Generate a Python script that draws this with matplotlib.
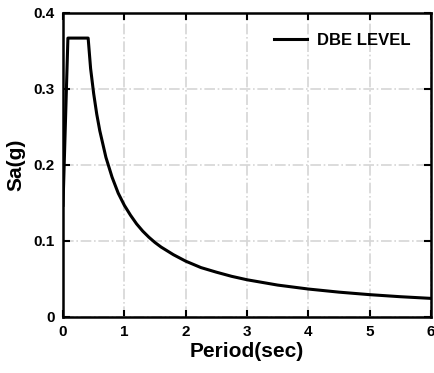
'''
Design response spectrum, DBE level
'''
import matplotlib
matplotlib.use('Agg')
import matplotlib.pyplot as plt

# ----------------------------
period = [0.0, 0.08, 0.41, 0.45, 0.5, 0.55, 0.6, 0.7, 0.8, 0.9, 1.0, 1.1, 1.2, 1.3,
          1.4, 1.5, 1.6, 1.8, 2.0, 2.25, 2.5, 2.75, 3.0, 3.5, 4.0, 4.5, 5.0, 5.5, 6.0]
sa_g   = [0.147, 0.367, 0.367, 0.327, 0.294, 0.267, 0.245, 0.210, 0.184, 0.163,
          0.147, 0.134, 0.1225, 0.113, 0.105, 0.098, 0.092, 0.082, 0.0735, 0.065,
          0.059, 0.0535, 0.049, 0.042, 0.0368, 0.0327, 0.0294, 0.0267, 0.0245]
xticks = [0, 1, 2, 3, 4, 5, 6]
yticks = [0, 0.1, 0.2, 0.3, 0.4]
ylabels= ['0', '0.1', '0.2', '0.3', '0.4']
# ----------------------------
plt.rcParams['font.family'] = ['Liberation Sans', 'DejaVu Sans']

fig = plt.figure(figsize=(4.35, 3.73), dpi=100)
ax  = fig.add_axes([63/435, 1 - 317/373, 368/435, 304/373])

ax.plot(period, sa_g, color='black', linewidth=2.2, label='DBE LEVEL')

ax.set_xlim(0, 6)
ax.set_ylim(0, 0.4)
ax.set_xticks(xticks)
ax.set_yticks(yticks)
ax.set_yticklabels(ylabels)
ax.grid(True, color='#d6d6d6', linestyle='-.', linewidth=1.2)
ax.tick_params(direction='in', top=True, right=True, length=5, width=1.5,
               labelsize=11, pad=6)
for lab in ax.get_xticklabels() + ax.get_yticklabels():
    lab.set_fontweight('bold')
for spine in ax.spines.values():
    spine.set_linewidth(1.8)

ax.set_xlabel('Period(sec)', fontsize=15, fontweight='bold', labelpad=2)
ax.set_ylabel('Sa(g)', fontsize=15, fontweight='bold', labelpad=6)

leg = ax.legend(loc='upper right', frameon=False, handlelength=2.0,
                handletextpad=0.6, borderaxespad=0.8, borderpad=0.4,
                prop={'size': 12, 'weight': 'semibold'})

plt.savefig('out.png', dpi=100)
plt.close()
